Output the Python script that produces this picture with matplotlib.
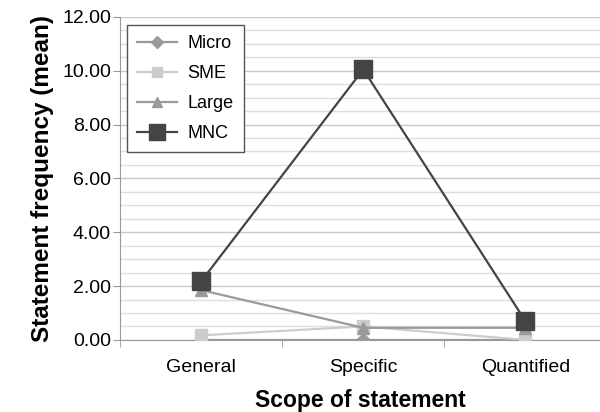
import numpy as np
import matplotlib.pyplot as plt
from matplotlib.ticker import MultipleLocator, FixedLocator

plt.rcParams['font.family'] = ['Liberation Sans', 'DejaVu Sans']

categories = ["General", "Specific", "Quantified"]
micro = [0.0, 0.0, 0.0]
sme = [0.17, 0.5, 0.0]
large = [1.85, 0.45, 0.45]
mnc = [2.17, 10.05, 0.7]

fig = plt.figure(figsize=(6.0, 4.12), dpi=100)
ax = fig.add_axes([0.2, 0.175, 0.8, 0.784])

x = np.arange(len(categories))

ax.plot(x, micro, color="#999999", lw=1.6, marker="D", ms=7, label="Micro", zorder=3)
ax.plot(x, sme, color="#cccccc", lw=1.6, marker="s", ms=8, label="SME", zorder=3)
ax.plot(x, large, color="#9a9a9a", lw=1.6, marker="^", ms=9, label="Large", zorder=3)
ax.plot(x, mnc, color="#444444", lw=1.6, marker="s", ms=13, label="MNC", zorder=4)

ax.set_xlim(-0.5, 2.46)
ax.set_ylim(0, 12)
ax.yaxis.set_major_locator(MultipleLocator(2))
ax.yaxis.set_minor_locator(MultipleLocator(0.5))
ax.yaxis.set_major_formatter(lambda v, p: f"{v:.2f}")
ax.grid(axis="y", which="major", color="#c8c8c8", lw=1.0)
ax.grid(axis="y", which="minor", color="#dedede", lw=1.0)
ax.set_axisbelow(True)

ax.set_xticks(x)
ax.set_xticklabels(categories)
ax.xaxis.set_minor_locator(FixedLocator([-0.5, 0.5, 1.5, 2.5]))
ax.tick_params(axis="x", which="major", length=0, labelsize=14, pad=14)
ax.tick_params(axis="x", which="minor", length=5, color="#999999")
ax.tick_params(axis="y", which="major", length=5, color="#999999", labelsize=14, pad=1.5)
ax.tick_params(axis="y", which="minor", length=0)

for side in ["top", "right"]:
    ax.spines[side].set_visible(False)
for side in ["left", "bottom"]:
    ax.spines[side].set_color("#999999")

ax.set_xlabel("Scope of statement", fontsize=16.5, fontweight="bold", labelpad=9)
ax.set_ylabel("Statement frequency (mean)", fontsize=17.5, fontweight="bold", labelpad=6)

leg = ax.legend(loc="upper left", bbox_to_anchor=(0.015, 0.975), borderaxespad=0,
                fontsize=13, fancybox=False, framealpha=1, edgecolor="#555555",
                handlelength=2.2, handletextpad=0.6, labelspacing=0.72,
                borderpad=0.55, markerscale=0.85)
leg.get_frame().set_linewidth(1.0)

fig.savefig("out.png", dpi=100)
